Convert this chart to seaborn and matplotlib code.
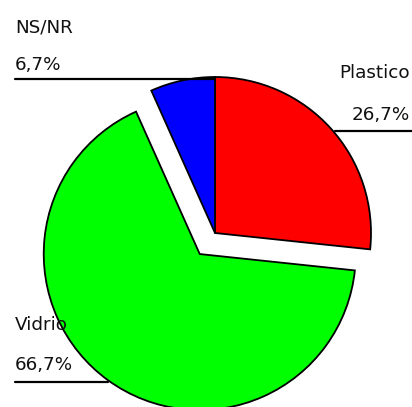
import matplotlib
matplotlib.use("Agg")
import matplotlib.pyplot as plt
import seaborn as sns

sns.set_theme(style="white")
plt.rcParams['font.family'] = ['DejaVu Sans']

categories = ["Plastico", "Vidrio", "NS/NR"]
values = [26.7, 66.7, 6.7]
colors = ["#FF0000", "#00FF00", "#0000FF"]
explode_px = [0, 26, 0]

W, H = 412, 407
fig = plt.figure(figsize=(W / 100, H / 100), dpi=100)
ax = fig.add_axes([0, 0, 1, 1])

ax.pie(values, colors=colors, startangle=90, counterclock=False,
       explode=explode_px, radius=156, center=(215, 174),
       wedgeprops=dict(edgecolor="black", linewidth=1.3),
       frame=True)
ax.set_xlim(0, W)
ax.set_ylim(0, H)
ax.set_aspect("equal")
ax.axis("off")

def pct(v):
    return f"{v:.1f}".replace(".", ",") + "%"

fs = 13.2
tc = "#111111"
# NS/NR
ax.text(15, 380, categories[2], ha="left", va="center", fontsize=fs, color=tc)
ax.text(15, 342, pct(values[2]), ha="left", va="center", fontsize=fs, color=tc)
ax.plot([15, 215], [328, 328], color="black", lw=1.6, zorder=5)
# Plastico
ax.text(410, 334, categories[0], ha="right", va="center", fontsize=fs, color=tc)
ax.text(410, 292, pct(values[0]), ha="right", va="center", fontsize=fs, color=tc)
ax.plot([335, 412], [276, 276], color="black", lw=1.6, zorder=5)
# Vidrio
ax.text(15, 82, categories[1], ha="left", va="center", fontsize=fs, color=tc, zorder=6)
ax.text(15, 42, pct(values[1]), ha="left", va="center", fontsize=fs, color=tc)
ax.plot([15, 108], [25, 25], color="black", lw=1.6, zorder=5)

fig.savefig("out.png", dpi=100, facecolor="white")
